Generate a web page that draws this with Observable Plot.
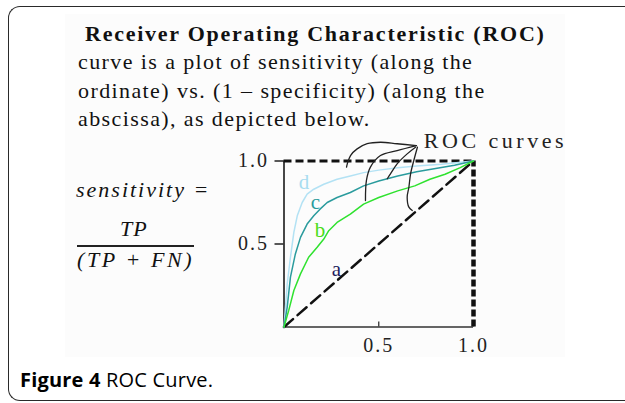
<!DOCTYPE html>
<html><head><meta charset="utf-8">
<script src="https://cdn.jsdelivr.net/npm/d3@7"></script>
<script src="https://cdn.jsdelivr.net/npm/@observablehq/plot@0.6"></script>
<style>
html,body{margin:0;padding:0;background:#fff;overflow:hidden;}
#page{position:relative;width:625px;height:403px;overflow:hidden;}
#frame{position:absolute;left:8px;top:6px;width:760px;height:393px;border:1.5px solid #2a2a2a;border-right:none;border-radius:12px 0 0 12px;}
#panel{position:absolute;left:65px;top:14px;width:500px;height:343px;background:#fcfcfc;}
.serif{font-family:"Liberation Serif","DejaVu Serif",serif;color:#111;}
#head{position:absolute;left:78px;top:20px;font-size:22px;line-height:28.3px;white-space:nowrap;letter-spacing:1.4px;}
#head b{margin-left:7px;letter-spacing:1.75px;}
.eq{position:absolute;font-size:22px;line-height:22px;white-space:nowrap;font-style:italic;}
#eq1{left:76px;top:179px;letter-spacing:2px;}
#eq2{left:120px;top:218px;letter-spacing:1px;}
#eq3{left:77px;top:249px;letter-spacing:2.6px;}
#fracline{position:absolute;left:77px;top:245px;width:117px;height:1.5px;background:#222;}
#caption{position:absolute;left:20px;top:370px;font-family:"Open Sans",sans-serif;font-size:20px;line-height:20px;color:#000;white-space:nowrap;letter-spacing:0.2px;}
#chart{position:absolute;left:0;top:0;}
#chart svg{overflow:visible;}
g[aria-label="x-axis tick label"] text, g[aria-label="y-axis tick label"] text{letter-spacing:2px;}
.lbl text{letter-spacing:3.5px;}
</style>
</head><body>
<div id="page">
  <div id="panel"></div>
  <div id="frame"></div>
  <div id="head" class="serif"><b>Receiver Operating Characteristic (ROC)</b><br>curve is a plot of sensitivity (along the<br>ordinate) vs. (1 – specificity) (along the<br>abscissa), as depicted below.</div>
  <div id="eq1" class="eq serif">sensitivity =</div>
  <div id="eq2" class="eq serif">TP</div>
  <div id="fracline"></div>
  <div id="eq3" class="eq serif">(TP + FN)</div>
  <div id="chart"></div>
  <div id="caption"><b>Figure 4</b> ROC Curve.</div>
</div>
<script>
// Tick values
const xTicks = [0.5, 1.0];
const yTicks = [0.5, 1.0];

// Curve a: chance diagonal
const fprA = [0, 1];
const tprA = [0, 1];
// Curve b (green)
const fprB = [0, 0.025, 0.052, 0.087, 0.13, 0.175, 0.21, 0.236, 0.28, 0.35, 0.42, 0.50, 0.60, 0.69, 0.77, 0.85, 0.93, 1];
const tprB = [0, 0.10, 0.22, 0.32, 0.42, 0.48, 0.53, 0.58, 0.63, 0.68, 0.74, 0.78, 0.82, 0.85, 0.89, 0.92, 0.96, 1];
// Curve c (teal)
const fprC = [0, 0.017, 0.034, 0.06, 0.087, 0.122, 0.157, 0.19, 0.228, 0.28, 0.35, 0.42, 0.50, 0.60, 0.70, 0.80, 0.90, 1];
const tprC = [0, 0.12, 0.30, 0.44, 0.54, 0.62, 0.67, 0.71, 0.75, 0.78, 0.81, 0.85, 0.88, 0.91, 0.935, 0.955, 0.975, 1];
// Curve d (light blue)
const fprD = [0, 0.008, 0.017, 0.034, 0.052, 0.07, 0.096, 0.122, 0.157, 0.21, 0.28, 0.35, 0.42, 0.50, 0.60, 0.70, 0.83, 1];
const tprD = [0, 0.12, 0.26, 0.42, 0.57, 0.67, 0.75, 0.80, 0.83, 0.86, 0.89, 0.91, 0.93, 0.945, 0.96, 0.97, 0.98, 1];

// Curve label names and anchor positions (data units)
const curveNames = ["a", "b", "c", "d"];
const labelX = [0.277, 0.19, 0.166, 0.105];
const labelY = [0.35, 0.58, 0.75, 0.87];

// "ROC curves" annotation and its leader lines (data units)
const annotText = "ROC curves";
const annotX = 0.738, annotY = 1.12;
const leadToDX = [0.699, 0.597, 0.509, 0.439, 0.386, 0.351, 0.334, 0.330];
const leadToDY = [1.093, 1.104, 1.113, 1.104, 1.073, 1.033, 0.983, 0.963];
const leadToBX = [0.699, 0.597, 0.509, 0.456, 0.435, 0.430];
const leadToBY = [1.093, 1.063, 1.033, 0.963, 0.883, 0.762];
const leadToCX = [0.694, 0.650, 0.597, 0.562, 0.545];
const leadToCY = [1.083, 1.043, 0.983, 0.923, 0.893];
const leadToAX = [0.704, 0.685, 0.668, 0.659, 0.650, 0.659, 0.677];
const leadToAY = [1.083, 1.003, 0.923, 0.842, 0.782, 0.722, 0.702];

const pts = (xs, ys) => xs.map((x, i) => ({x, y: ys[i]}));
const colors = {a: "#1d1d5e", b: "#2fe22f", c: "#2a9b9d", d: "#b3e2f4"};
const labelColors = {a: "#1d1d5e", b: "#4cdc1c", c: "#2a9b9d", d: "#a9dcf0"};
const labels = curveNames.map((n, i) => ({n, x: labelX[i], y: labelY[i]}));
const serif = "Liberation Serif, DejaVu Serif, serif";

const chart = Plot.plot({
  width: 625, height: 403,
  marginLeft: 283.5, marginRight: 152, marginTop: 160.5, marginBottom: 76.5,
  x: {domain: [0, 1]},
  y: {domain: [0, 1]},
  style: {background: "transparent", fontFamily: serif, color: "#222"},
  marks: [
    Plot.ruleY([0], {x1: 0, x2: 1, stroke: "#333", strokeWidth: 1.5}),
    Plot.ruleX([0], {y1: 0, y2: 1, stroke: "#333", strokeWidth: 1.8}),
    Plot.axisY({ticks: yTicks, tickSize: 9, tickPadding: 6, tickFormat: d => d.toFixed(1), fontSize: 20, strokeWidth: 1.5, label: null}),
    Plot.axisX({ticks: xTicks, tickSize: 0, tickPadding: 11, tickFormat: d => d.toFixed(1), fontSize: 20, label: null}),
    Plot.ruleX(xTicks, {y1: 0, y2: 0.03, stroke: "#333", strokeWidth: 1.3}),
    Plot.line(pts(fprA, tprA), {x: "x", y: "y", stroke: "#111", strokeWidth: 2.5, strokeDasharray: "12,6"}),
    Plot.ruleY([1], {x1: 0, x2: 1, stroke: "#111", strokeWidth: 3, strokeDasharray: "8,4"}),
    Plot.ruleX([1], {y1: 0, y2: 1, stroke: "#111", strokeWidth: 4.5, strokeDasharray: "7,3"}),
    Plot.line(pts(fprD, tprD), {x: "x", y: "y", stroke: colors.d, strokeWidth: 1.5}),
    Plot.line(pts(fprC, tprC), {x: "x", y: "y", stroke: colors.c, strokeWidth: 1.5}),
    Plot.line(pts(fprB, tprB), {x: "x", y: "y", stroke: colors.b, strokeWidth: 1.5}),
    Plot.line(pts(leadToDX, leadToDY), {x: "x", y: "y", stroke: "#222", strokeWidth: 1.3, curve: "catmull-rom"}),
    Plot.line(pts(leadToBX, leadToBY), {x: "x", y: "y", stroke: "#222", strokeWidth: 1.3, curve: "catmull-rom"}),
    Plot.line(pts(leadToCX, leadToCY), {x: "x", y: "y", stroke: "#222", strokeWidth: 1.3, curve: "catmull-rom"}),
    Plot.line(pts(leadToAX, leadToAY), {x: "x", y: "y", stroke: "#222", strokeWidth: 1.3, curve: "catmull-rom"}),
    Plot.text(labels, {x: "x", y: "y", text: "n", fill: d => labelColors[d.n], fontSize: 21, fontFamily: serif}),
    Plot.text([annotText], {x: () => annotX, y: () => annotY, text: d => d, textAnchor: "start", fontSize: 22, fontFamily: serif, fill: "#222", className: "lbl"})
  ]
});
document.getElementById("chart").appendChild(chart);
</script>
</body></html>
